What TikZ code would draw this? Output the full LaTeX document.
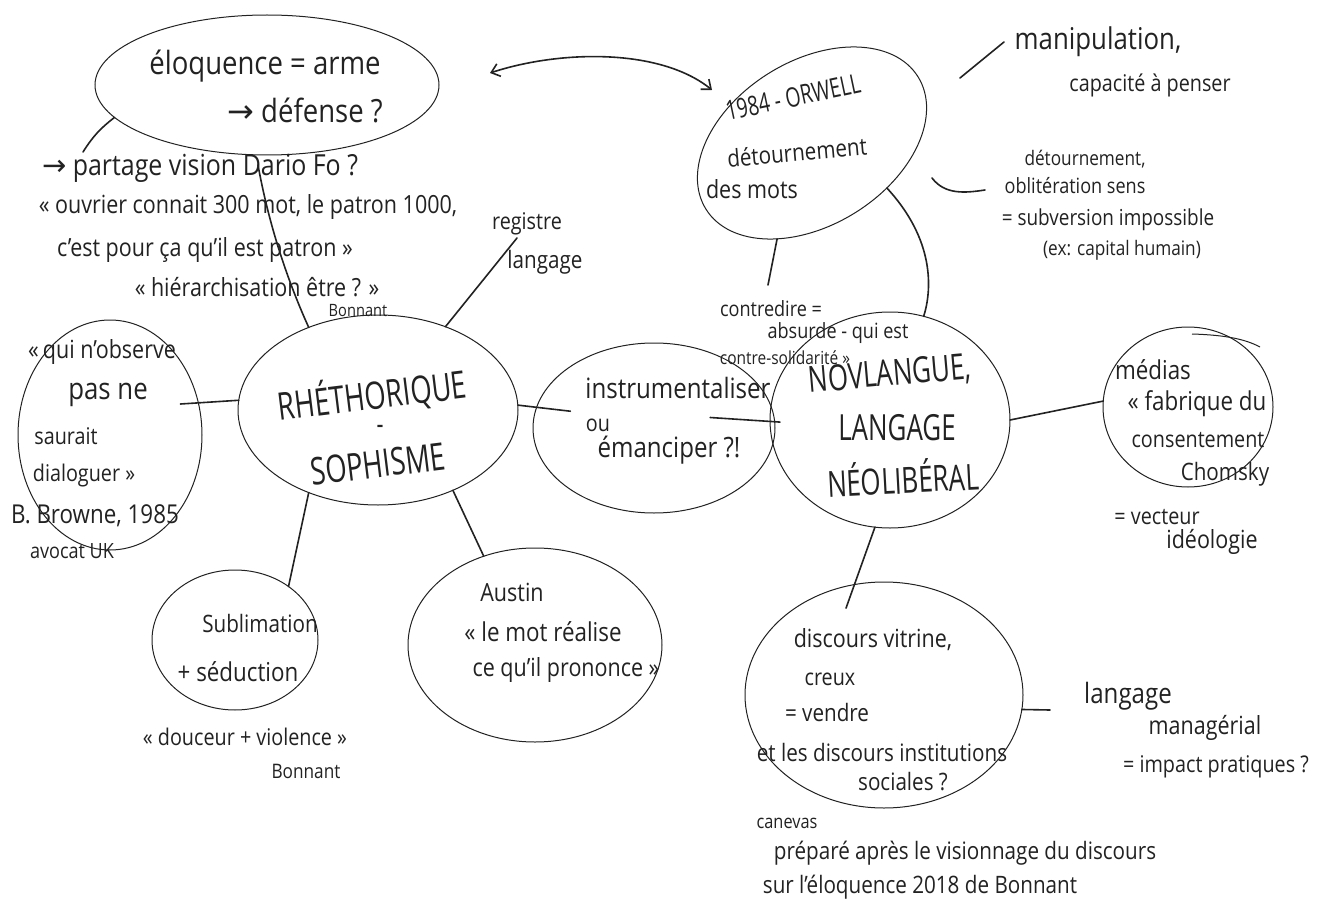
\documentclass[tikz,border=0pt]{standalone}
\usepackage{fontspec}
\setmainfont{Open Sans}[FakeStretch=0.86]
\newfontfamily\capsfont[FakeStretch=0.72]{Open Sans}
\newfontfamily\symfont{DejaVu Sans}
\usetikzlibrary{shapes.geometric,arrows.meta}
\definecolor{ink}{HTML}{222222}
\tikzset{
  ell/.style={draw=ink, ellipse, line width=1pt, inner sep=0pt, outer sep=0pt},
  link/.style={draw=ink, line width=1.6pt, line cap=round},
  hw/.style={font=\fontsize{#1}{#1}\selectfont, text=ink, inner sep=0pt},
  bigtxt/.style={font=\capsfont\fontsize{#1}{#1}\selectfont, text=ink, inner sep=0pt},
}
\begin{document}
\begin{tikzpicture}[x=1pt,y=-1pt]
\useasboundingbox (0,0) rectangle (1326,915);
\fill[white] (0,0) rectangle (1326,915);

% ---------- ellipses ----------
\node[ell, minimum width=344, minimum height=140] (eloq) at (267,85) {};
\node[ell, minimum width=250, minimum height=164, rotate=32] (orwell) at (812,143) {};
\node[ell, minimum width=280, minimum height=190] (rhet) at (378,410) {};
\node[ell, minimum width=184, minimum height=230] (browne) at (110,435) {};
\node[ell, minimum width=166, minimum height=140] (subl) at (235,640) {};
\node[ell, minimum width=254, minimum height=194] (austin) at (535,645) {};
\node[ell, minimum width=242, minimum height=170] (instr) at (654,428) {};
\node[ell, minimum width=240, minimum height=216] (novl) at (890,420) {};
\node[ell, minimum width=170, minimum height=160] (medias) at (1188,407) {};
\node[ell, minimum width=278, minimum height=226] (disc) at (884,695) {};
% second stroke on top of the medias circle
\draw[draw=ink, line width=1pt] (1192,334) .. controls (1225,335) and (1245,339) .. (1260,347);

% ---------- free ends ----------
\coordinate (arrR) at (712,90);
\coordinate (arrL) at (490,73);
\coordinate (partend) at (83,152);
\coordinate (quotetop) at (258,165);
\coordinate (regend) at (517,238);
\coordinate (m1) at (960,78);
\coordinate (m2) at (1004,42);
\coordinate (d1) at (932,178);
\coordinate (d2) at (985,190);
\coordinate (contr) at (768,285);
\coordinate (lang) at (1050,710);

% ---------- connectors ----------
\draw[link, {Straight Barb[length=8pt,width=13pt]}-{Straight Barb[length=8pt,width=13pt]}]
  (arrR) .. controls (660,48) and (560,50) .. (arrL);
\draw[link] (eloq.192) to[bend right=10] (partend);
\draw[link] (rhet.130) .. controls (285,275) and (268,220) .. (quotetop);
\draw[link] (rhet.51) -- (regend);
\draw[link, shorten >=-18pt] (rhet.176) -- (browne.20);
\draw[link] (rhet.230) -- (subl.45);
\draw[link] (rhet.313) -- (austin.120);
\draw[link, shorten >=-34pt] (rhet.2) -- (instr.170);
\draw[link] ([xshift=-64pt]instr.5) -- ([xshift=10pt]novl.181);
\draw[link] (m1) -- (m2);
\draw[link] (d1) .. controls (945,195) and (965,193) .. (d2);
\draw[link] (orwell.218) -- (contr);
\draw[link] (orwell.297) .. controls (935,240) and (932,290) .. (novl.72);
\draw[link] (novl.0) -- (medias.176);
\draw[link, shorten >=-25pt] (novl.262) -- (disc.105);
\draw[link] (disc.354) -- (lang);

% ---------- texts ----------
% eloquence
\node[hw=32] (t1) at (265,66) {éloquence = arme};
\node[hw=32] (t2) at (305,110) {{\symfont →} défense ?};
\node[hw=29] (t3) at (200,168) {{\symfont →} partage vision Dario Fo ?};
\node[hw=25] (t4) at (248,207) {« ouvrier connait 300 mot, le patron 1000,};
\node[hw=25] (t5) at (205,250) {c'est pour ça qu'il est patron »};
\node[hw=25] (t6) at (257,287) {« hiérarchisation être ? »};
\node[hw=17] (t7) at (358,311) {Bonnant};
\node[hw=23] (t8) at (527,224) {registre};
\node[hw=24] (t9) at (545,262) {langage};

% rhetorique
\node[bigtxt=38, rotate=7] (r1) at (372,395) {RHÉTHORIQUE};
\node[bigtxt=30] (r2) at (380,430) {-};
\node[bigtxt=38, rotate=7] (r3) at (378,464) {SOPHISME};

% browne
\node[hw=25] (b1) at (102,352) {«\,qui n'observe};
\node[hw=30] (b2) at (108,395) {pas ne};
\node[hw=23] (b3) at (66,436) {saurait};
\node[hw=23] (b4) at (84,476) {dialoguer »};
\node[hw=26] (b5) at (95,516) {B. Browne, 1985};
\node[hw=21] (b6) at (72,551) {avocat UK};

% sublimation
\node[hw=24] (s1) at (260,623) {Sublimation};
\node[hw=26] (s2) at (238,672) {+ séduction};
\node[hw=23] (s3) at (245,737) {« douceur + violence »};
\node[hw=20] (s4) at (306,771) {Bonnant};

% austin
\node[hw=25] (a1) at (512,592) {Austin};
\node[hw=26] (a2) at (543,632) {« le mot réalise};
\node[hw=25] (a3) at (566,670) {ce qu'il prononce »};

% instrumentaliser
\node[hw=28] (i1) at (678,388) {instrumentaliser};
\node[hw=23] (i2) at (598,425) {ou};
\node[hw=28] (i3) at (669,450) {émanciper ?!};

% novlangue
\node[bigtxt=36, rotate=5] (n1) at (890,375) {NOVLANGUE,};
\node[bigtxt=36] (n2) at (897,428) {LANGAGE};
\node[bigtxt=36, rotate=3] (n3) at (903,477) {NÉOLIBÉRAL};

% orwell
\node[bigtxt=27, rotate=12] (o1) at (793,97) {1984 - ORWELL};
\node[hw=24, rotate=5] (o2) at (797,152) {détournement};
\node[hw=25] (o3) at (752,189) {des mots};

% right top
\node[hw=30] (p1) at (1098,42) {manipulation,};
\node[hw=23] (p2) at (1150,85) {capacité à penser};
\node[hw=20] (p3) at (1085,159) {détournement,};
\node[hw=21] (p4) at (1075,186) {oblitération sens};
\node[hw=22] (p5) at (1108,220) {= subversion impossible};
\node[hw=20] (p6) at (1122,250) {(ex: capital humain)};

% contredire
\node[hw=21] (c1) at (771,309) {contredire =};
\node[hw=21] (c2) at (838,333) {absurde - qui est};
\node[hw=18] (c3) at (785,358) {contre-solidarité »};

% medias
\node[hw=26] (e1) at (1153,370) {médias};
\node[hw=26] (e2) at (1197,404) {« fabrique du};
\node[hw=23] (e3) at (1198,440) {consentement};
\node[hw=24] (e4) at (1225,474) {Chomsky};
\node[hw=23] (e5) at (1157,517) {= vecteur};
\node[hw=25] (e6) at (1212,542) {idéologie};

% discours
\node[hw=25] (v1) at (873,640) {discours vitrine,};
\node[hw=23] (v2) at (830,679) {creux};
\node[hw=24] (v3) at (827,712) {= vendre};
\node[hw=24] (v4) at (882,752) {et les discours institutions};
\node[hw=24] (v5) at (903,782) {sociales ?};

% langage managerial
\node[hw=28] (l1) at (1128,696) {langage};
\node[hw=25] (l2) at (1205,728) {managérial};
\node[hw=23] (l3) at (1216,767) {= impact pratiques ?};

% bottom note
\node[hw=19] (f1) at (787,823) {canevas};
\node[hw=24] (f2) at (965,853) {préparé après le visionnage du discours};
\node[hw=24] (f3) at (920,887) {sur l'éloquence 2018 de Bonnant};
\end{tikzpicture}
\end{document}
